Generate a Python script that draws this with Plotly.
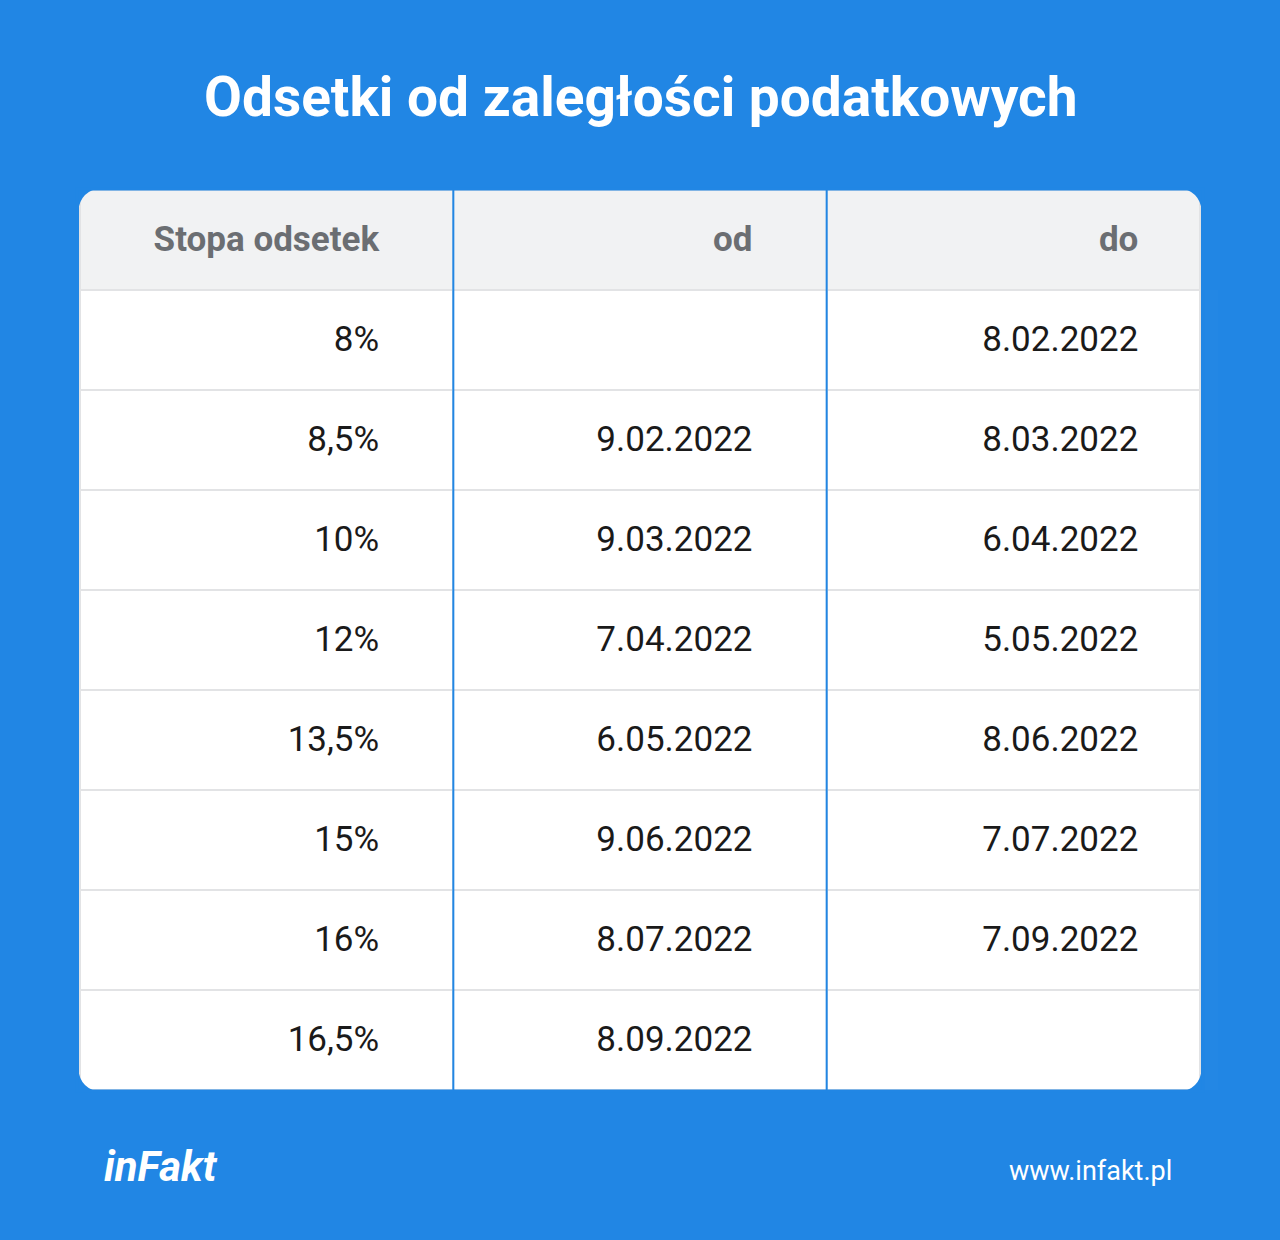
import plotly.graph_objects as go

BLUE = "#2186E4"
W, H = 1280, 1240

headers = ["Stopa odsetek", "od", "do"]
rates = ["8%", "8,5%", "10%", "12%", "13,5%", "15%", "16%", "16,5%"]
date_from = ["", "9.02.2022", "9.03.2022", "7.04.2022", "6.05.2022", "9.06.2022", "8.07.2022", "8.09.2022"]
date_to = ["8.02.2022", "8.03.2022", "6.04.2022", "5.05.2022", "8.06.2022", "7.07.2022", "7.09.2022", ""]

# table box in pixels
x0, x1, y0, y1 = 80, 1200, 190, 1090
FS = 35
BASE = 24
PADS = ["\u2007" * 3 + "\u2009", "\u2007" * 3 + "\u2009", "\u2007" * 2 + "\u2009\u2009"]


def cell(v, pad, bold=False):
    # empty-ish first line pushes the text down to the middle of the row
    if not v:
        return ""
    t = "<b>" + v + "</b>" if bold else v
    return "\u00a0<br><span style='font-size:%dpx'>%s%s</span>" % (FS, t, pad)


fig = go.Figure()
fig.add_trace(go.Table(
    domain=dict(x=[x0 / W, x1 / W], y=[1 - y1 / H, 1 - y0 / H]),
    columnwidth=[1, 1, 1],
    header=dict(
        values=[cell(h, p, True) for h, p in zip(headers, PADS)],
        fill_color="#F1F2F3", line=dict(color="#E2E3E5", width=2),
        align="right", height=100,
        font=dict(family="Roboto", size=BASE, color="#6B6E72"),
    ),
    cells=dict(
        values=[[cell(v, p) for v in col] for col, p in zip([rates, date_from, date_to], PADS)],
        fill_color="white", line=dict(color="#E2E3E5", width=2),
        align="right", height=100,
        font=dict(family="Roboto", size=BASE, color="#1A1A1A"),
    ),
))

shapes = []
r = 22
# blue masks for rounded corners
corners = [
    f"M{x0-2},{y0-2} L{x0+r},{y0-2} Q{x0},{y0} {x0-2},{y0+r} Z",
    f"M{x1+2},{y0-2} L{x1-r},{y0-2} Q{x1},{y0} {x1+2},{y0+r} Z",
    f"M{x0-2},{y1+2} L{x0+r},{y1+2} Q{x0},{y1} {x0-2},{y1-r} Z",
    f"M{x1+2},{y1+2} L{x1-r},{y1+2} Q{x1},{y1} {x1+2},{y1-r} Z",
]
for p in corners:
    shapes.append(dict(type="path", path=p, xref="x", yref="y", fillcolor=BLUE,
                       line=dict(width=0), layer="above"))
shapes.append(dict(type="rect", x0=x0 - 3, x1=x1 + 3, y0=y0 - 1, y1=y1 + 1, xref="x", yref="y",
                   line=dict(color=BLUE, width=3), layer="above"))
colw = (x1 - x0) / 3
for i in (1, 2):
    xv = x0 + colw * i
    shapes.append(dict(type="line", x0=xv, x1=xv, y0=y0, y1=y1, xref="x", yref="y",
                       line=dict(color=BLUE, width=2), layer="above"))

fig.update_layout(
    width=W, height=H, margin=dict(l=0, r=0, t=0, b=0),
    paper_bgcolor=BLUE, plot_bgcolor=BLUE,
    xaxis=dict(range=[0, W], visible=False, fixedrange=True),
    yaxis=dict(range=[H, 0], visible=False, fixedrange=True),
    shapes=shapes, showlegend=False,
    annotations=[
        dict(text="<b>Odsetki od zaległości podatkowych</b>", x=640, y=97, xref="x", yref="y",
             showarrow=False, font=dict(family="Roboto", size=55, color="white")),
        dict(text="<b><i>inFakt</i></b>", x=102, y=1166, xref="x", yref="y", xanchor="left",
             showarrow=False, font=dict(family="Roboto", size=42, color="white")),
        dict(text="www.infakt.pl", x=1174, y=1171, xref="x", yref="y", xanchor="right",
             showarrow=False, font=dict(family="Roboto", size=27, color="white")),
    ],
)
fig.write_html("out.html", config={"displayModeBar": False},
               post_script="document.body.style.margin='0';")
